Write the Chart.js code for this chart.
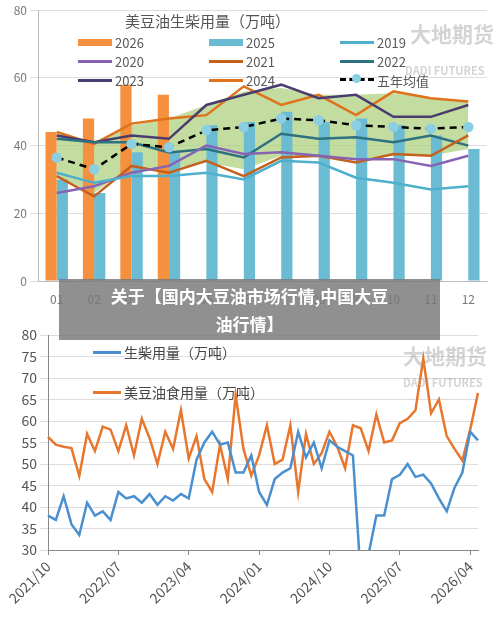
<!DOCTYPE html>
<html><head><meta charset="utf-8">
<script src="https://cdn.jsdelivr.net/npm/chart.js@4/dist/chart.umd.min.js"></script>
<style>
body{margin:0;background:#fff;font-family:"Noto Sans CJK SC","Noto Sans",sans-serif;}
#wrap{position:relative;width:500px;height:619px;overflow:hidden;}
.cv{position:absolute;left:0;}
.lg{position:absolute;font-size:13px;color:#595959;display:flex;align-items:center;white-space:nowrap;}
.sw{display:inline-block;margin-right:3px;}
#banner{position:absolute;left:59px;top:279px;width:381px;height:61px;background:rgba(120,120,120,0.82);color:#fff;font-weight:bold;font-size:17px;text-align:center;line-height:28px;padding-top:3px;box-sizing:border-box;}
.wm{position:absolute;color:rgba(160,160,160,0.45);font-weight:bold;}
</style></head><body>
<div id="wrap">
<canvas id="c1" class="cv" style="top:0" width="500" height="310"></canvas>
<canvas id="c2" class="cv" style="top:310px" width="500" height="309"></canvas>
</div>
<script>
const months=['01','02','03','04','05','06','07','08','09','10','11','12'];
const y2026=[44,48,58,55,null,null,null,null,null,null,null,null];
const y2025=[30,26,38,38,46,47,50,47,48,46,43,39];
const y2019=[32,29,31,31,32,30,35.5,35,30.5,29,27,28];
const y2020=[26,28,32,34,40,37.5,38,37,36,36,34,37];
const y2021=[31,25,34,32,35.5,31,36.5,37,35,37.5,37,43];
const y2022=[42,41,41,38,39,36.5,43.5,42,42.5,41,43,40];
const y2023=[43,41,43,42,52,55,58,54,55,48.5,48.5,52];
const y2024=[44,40.5,46.5,48,49,57.5,52,55,49,56,54,53];
const avg5=[36.5,33,40.5,39.5,44.5,45.5,48,47.5,46,45.5,45,45.5];
const bandHi=[43.5,41,46,48,52,56,57,55,55,55.5,54,53];
const bandLo=[31,26,34,33,35,33,37,36.5,36,37,37,39];

const monthLabels2=[];
(function(){let y=2021,m=10;for(let i=0;i<56;i++){monthLabels2.push(y+'/'+String(m).padStart(2,'0'));m++;if(m>12){m=1;y++;}}})();
const tickLabels2=['2021/10','2022/07','2023/04','2024/01','2024/10','2025/07','2026/04'];
const diesel=[38,37,42.5,36,33.5,41,38,39,37,43.5,42,42.5,41,43,40.5,42.5,41.5,43,42,51,55,57.5,54.5,55,48,48,52,43.5,40.5,46.5,48,49,57.5,51.5,55,49,55.5,54,53,52,24,29,38,38,46.5,47.5,50,47,47.5,45.5,42,39,44.5,48,57.5,55.5];
const food=[56.3,54.5,54,53.7,47.2,57,53,58.7,58,53,59,52,60.5,56,50,57.5,53.5,62.5,51.3,56.5,46.5,43.5,54.5,46.5,66,53.5,47.3,52,59,50,51,59,43.5,57,50,52.5,57.5,54,49,59,58.3,53,61.5,55,55.5,59.5,60.5,62.5,74.5,61.8,65,56.5,53.5,50.8,58,66.5];

Chart.defaults.font.family='"Noto Sans CJK SC","Noto Sans",sans-serif';
Chart.defaults.animation=false;
const ln=(label,data,color,w)=>({type:'line',label,data,borderColor:color,backgroundColor:color,borderWidth:w||2.5,pointRadius:0,fill:false,tension:0,order:2});

new Chart(document.getElementById('c1'),{
 type:'bar',
 data:{labels:months,datasets:[
  {type:'line',label:'hi',data:bandHi,borderWidth:0,pointRadius:0,fill:false,order:20,borderColor:'rgba(0,0,0,0)'},
  {type:'line',label:'lo',data:bandLo,borderWidth:0,pointRadius:0,fill:'-1',backgroundColor:'rgba(170,205,120,0.7)',order:20,borderColor:'rgba(0,0,0,0)'},
  {label:'2026',data:y2026,backgroundColor:'#f5913e',order:10,categoryPercentage:0.6,barPercentage:1},
  {label:'2025',data:y2025,backgroundColor:'#6bbcd3',order:10,categoryPercentage:0.6,barPercentage:1},
  ln('2019',y2019,'#4eb0cc'),ln('2020',y2020,'#8663b3'),ln('2021',y2021,'#c3611d'),
  ln('2022',y2022,'#2e7180'),ln('2023',y2023,'#4a3c6e'),ln('2024',y2024,'#e0721c'),
  {type:'line',label:'五年均值',data:avg5,borderColor:'#000',borderDash:[7,5],borderWidth:2.5,pointRadius:4,pointBackgroundColor:'#8ccfe0',pointBorderColor:'#8ccfe0',fill:false,order:1}
 ]},
 options:{responsive:false,layout:{padding:{top:10,right:13,left:0,bottom:0}},
  plugins:{legend:{display:false},tooltip:{enabled:false}},
  scales:{
   x:{grid:{display:false},border:{color:'#bbb'},ticks:{color:'#777',font:{size:12}},afterFit(s){s.height=29;}},
   y:{min:0,max:80,ticks:{stepSize:20,color:'#777',font:{size:12}},grid:{color:'#ddd'},border:{color:'#bbb'},afterFit(s){s.width=38;}}
  }}
});

new Chart(document.getElementById('c2'),{
 type:'line',
 data:{labels:monthLabels2,datasets:[
  {label:'生柴用量（万吨）',data:diesel,borderColor:'#4a90d0',borderWidth:2.5,pointRadius:0,tension:0},
  {label:'美豆油食用量（万吨）',data:food,borderColor:'#e8762d',borderWidth:2.5,pointRadius:0,tension:0}
 ]},
 options:{responsive:false,layout:{padding:{top:25,right:22,left:0,bottom:0}},
  plugins:{legend:{display:false},tooltip:{enabled:false}},
  scales:{
   x:{offset:false,grid:{display:true,drawOnChartArea:false,color:'#888',tickLength:5},border:{color:'#888'},
      ticks:{autoSkip:false,minRotation:45,maxRotation:45,color:'#555',font:{size:14},
        callback(v,i){return tickLabels2.includes(monthLabels2[i])?monthLabels2[i]:null;}},
      afterFit(s){s.height=69;}},
   y:{min:30,max:80,ticks:{stepSize:5,color:'#555',font:{size:14}},grid:{color:'#ddd'},border:{color:'#888'},afterFit(s){s.width=48;}}
  }}
});

const wrap=document.getElementById('wrap');
function add(html){wrap.insertAdjacentHTML('beforeend',html);}
add('<div class="lg" style="left:125px;top:10px;font-size:15px;color:#555">美豆油生柴用量（万吨）</div>');
const leg=[['2026','#f5913e','bar'],['2025','#6bbcd3','bar'],['2019','#4eb0cc','line'],
 ['2020','#8663b3','line'],['2021','#c3611d','line'],['2022','#2e7180','line'],
 ['2023','#4a3c6e','line'],['2024','#e0721c','line'],['五年均值','#000','avg']];
leg.forEach((l,i)=>{const col=i%3,row=Math.floor(i/3);
 const x=78+col*131,y=33+row*19;
 let sw=l[2]==='bar'?`<span class="sw" style="width:34px;height:7px;background:${l[1]}"></span>`:
   l[2]==='line'?`<span class="sw" style="width:34px;height:3px;background:${l[1]}"></span>`:
   `<span class="sw" style="width:34px;height:3px;border-top:3px dashed #000;position:relative"><span style="position:absolute;left:12px;top:-7px;width:9px;height:9px;border-radius:50%;background:#8ccfe0"></span></span>`;
 add(`<div class="lg" style="left:${x}px;top:${y}px">${sw}${l[0]}</div>`);});
add('<div class="wm" style="left:410px;top:18px;font-size:21px">大地期货</div><div class="wm" style="left:405px;top:62px;font-size:11px">DADI FUTURES</div>');
add('<div class="wm" style="left:403px;top:340px;font-size:21px">大地期货</div><div class="wm" style="left:403px;top:374px;font-size:11px">DADI FUTURES</div>');
add('<div class="lg" style="left:93px;top:342px;font-size:14px;color:#444"><span class="sw" style="width:28px;height:3px;background:#4a90d0"></span>生柴用量（万吨）</div>');
add('<div class="lg" style="left:93px;top:382px;font-size:14px;color:#444"><span class="sw" style="width:28px;height:3px;background:#e8762d"></span>美豆油食用量（万吨）</div>');
add('<div id="banner">关于【国内大豆油市场行情,中国大豆<br>油行情】</div>');
</script>
</body></html>
